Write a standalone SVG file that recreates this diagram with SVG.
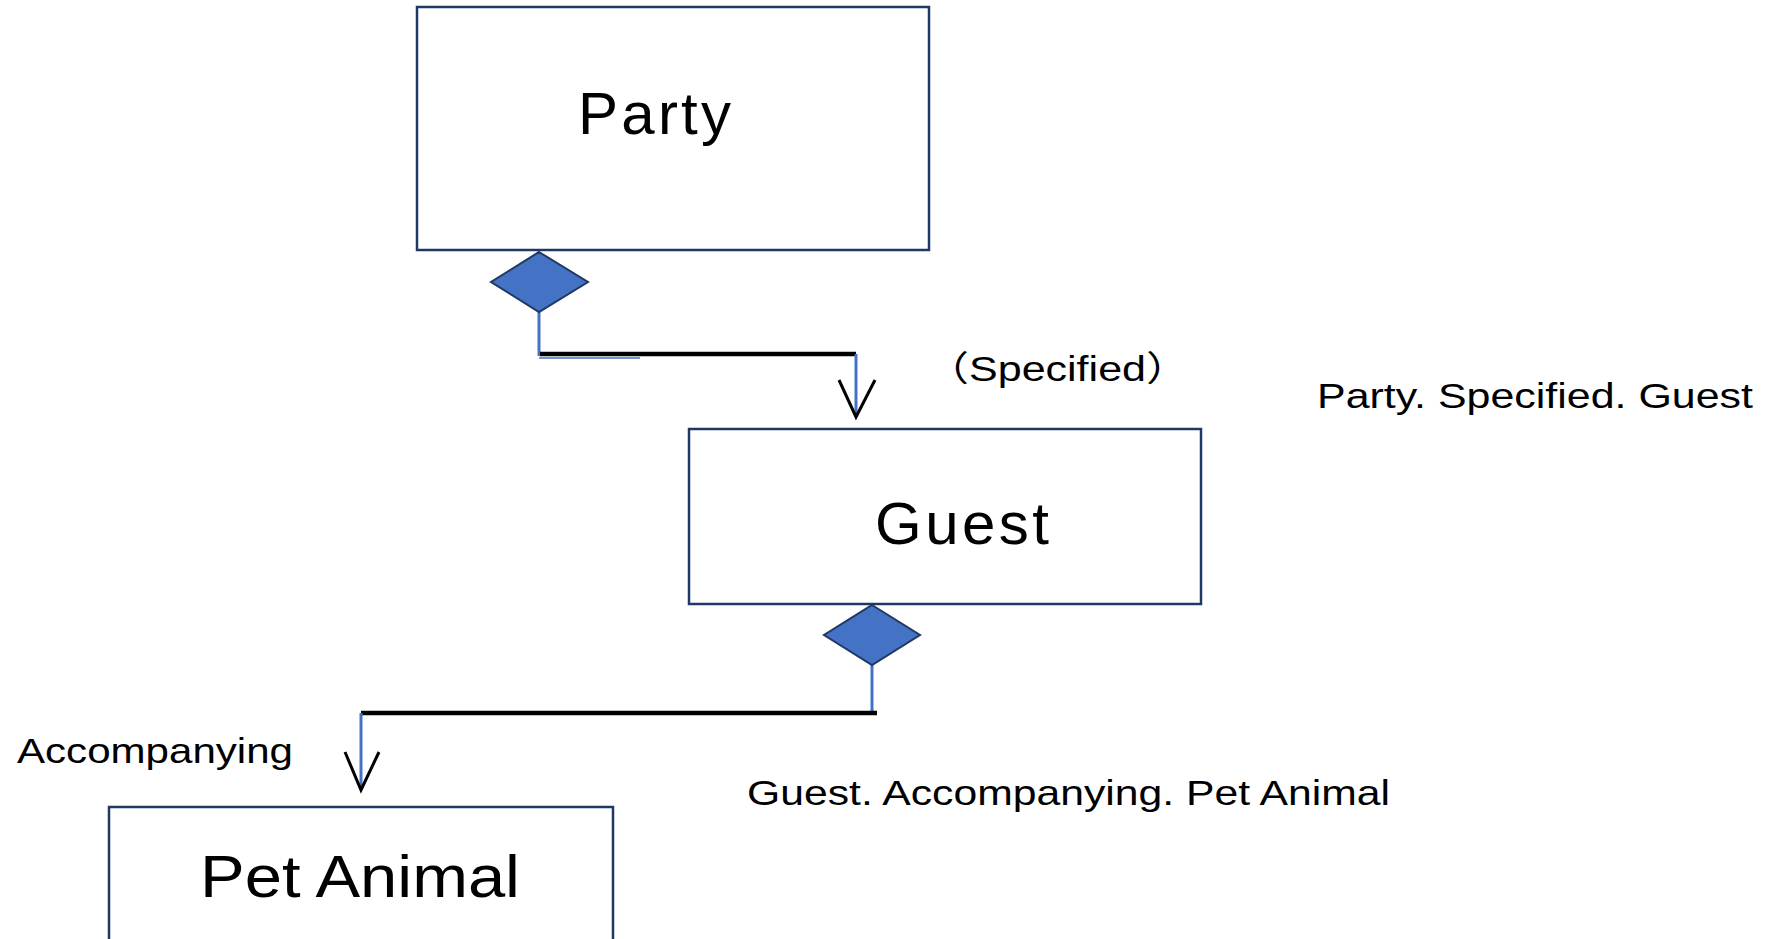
<svg xmlns="http://www.w3.org/2000/svg" width="1777" height="939" viewBox="0 0 1777 939">
<style>
.box{fill:#fff;stroke:#203864;stroke-width:2.5}
.dia{fill:#4472C4;stroke:#1F3864;stroke-width:2}
.blue{stroke:#4472C4;stroke-width:3;fill:none}
.thin{stroke:#4472C4;stroke-width:1.5;fill:none}
.blk{stroke:#000;stroke-width:4.5;fill:none}
.arr{stroke:#000;stroke-width:3;fill:none}
.big{font-family:"Liberation Sans","Noto Sans CJK JP",sans-serif;font-size:60px;fill:#000}
.lbl{font-family:"Liberation Sans","Noto Sans CJK JP",sans-serif;font-size:35px;fill:#000}
</style>
<rect width="1777" height="939" fill="#fff"/>
<g id="connectors">
  <line class="blue" x1="539" y1="311" x2="539" y2="356"/>
  <line class="thin" x1="539" y1="358" x2="640" y2="358"/>
  <line class="blk" x1="540" y1="354" x2="856" y2="354"/>
  <line class="blue" x1="856" y1="354" x2="856" y2="417"/>
  <polyline class="arr" points="839,380 856,417 875,380"/>
  <line class="blue" x1="872" y1="665" x2="872" y2="713"/>
  <line class="blk" x1="361" y1="713" x2="877" y2="713"/>
  <line class="blue" x1="361" y1="713" x2="361" y2="790"/>
  <polyline class="arr" points="345,752 361,790 379,752"/>
</g>
<g id="party">
  <rect class="box" x="417" y="7" width="512" height="243"/>
  <text class="big" x="578" y="134" textLength="153" lengthAdjust="spacing">Party</text>
  <polygon class="dia" points="539,252 588,282 539,312 491,282"/>
</g>
<g id="guest">
  <rect class="box" x="689" y="429" width="512" height="175"/>
  <text class="big" x="875" y="544" textLength="174" lengthAdjust="spacing">Guest</text>
  <polygon class="dia" points="872,605 920,635 872,665 824,635"/>
</g>
<g id="pet-animal">
  <rect class="box" x="109" y="807" width="504" height="160"/>
  <text class="big" x="200" y="897" textLength="320" lengthAdjust="spacingAndGlyphs">Pet Animal</text>
</g>
<g id="labels">
  <text class="lbl" x="926" y="381" textLength="263" lengthAdjust="spacingAndGlyphs">（Specified）</text>
  <text class="lbl" x="1317" y="408" textLength="436" lengthAdjust="spacingAndGlyphs">Party. Specified. Guest</text>
  <text class="lbl" x="17" y="763" textLength="276" lengthAdjust="spacingAndGlyphs">Accompanying</text>
  <text class="lbl" x="747" y="805" textLength="643" lengthAdjust="spacingAndGlyphs">Guest. Accompanying. Pet Animal</text>
</g>
</svg>
